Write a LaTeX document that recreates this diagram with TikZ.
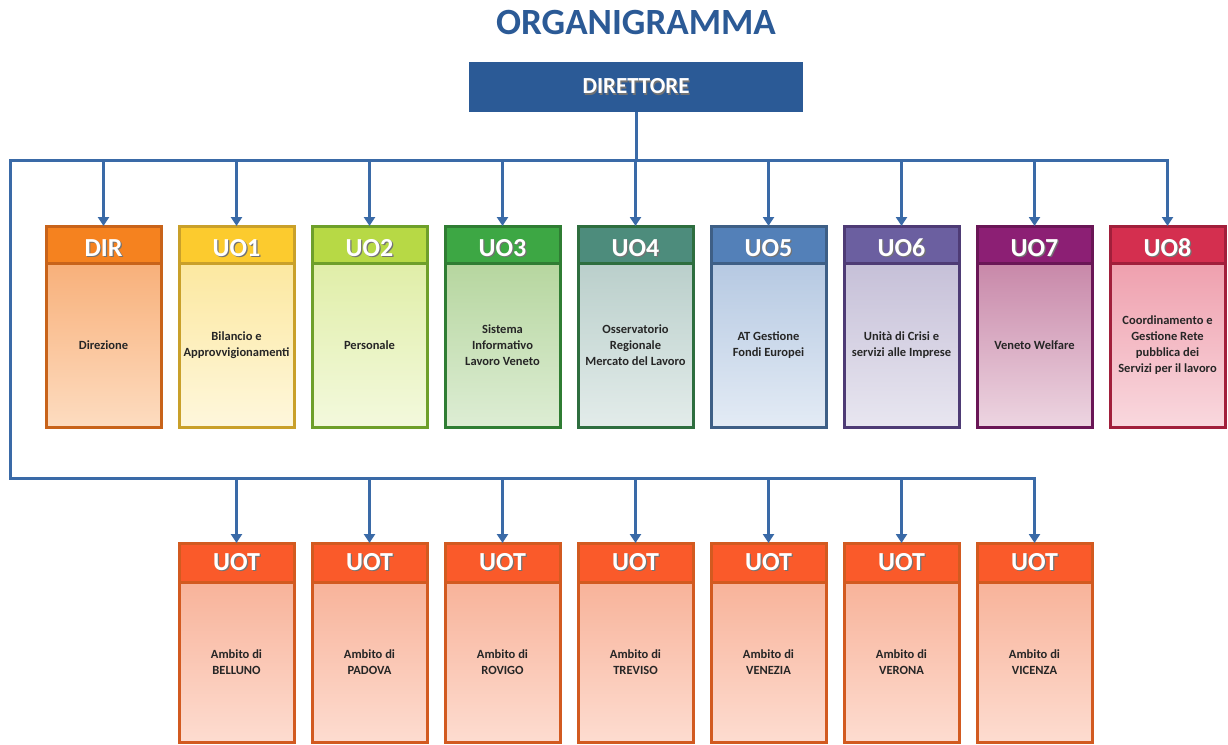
\documentclass[tikz,border=0pt]{standalone}
\usepackage{fontspec}
\setmainfont{Carlito}
\usepackage{xcolor}
\usetikzlibrary{arrows.meta,positioning}
\definecolor{TB}{HTML}{2B5A96}
\definecolor{LN}{HTML}{3A6AA7}
% unit colours: H header, B border, T body top, L body bottom
\definecolor{DIH}{HTML}{F5821F}\definecolor{DIB}{HTML}{C8631A}
\definecolor{DIT}{HTML}{F8B07A}\definecolor{DIL}{HTML}{FDDCC0}
\definecolor{UAH}{HTML}{FCCB2E}\definecolor{UAB}{HTML}{C9A02A}
\definecolor{UAT}{HTML}{FCE8A0}\definecolor{UAL}{HTML}{FEF7DC}
\definecolor{UBH}{HTML}{B7D945}\definecolor{UBB}{HTML}{6E9F2A}
\definecolor{UBT}{HTML}{E0EEA8}\definecolor{UBL}{HTML}{F3F9DD}
\definecolor{UCH}{HTML}{3DA744}\definecolor{UCB}{HTML}{2F7D33}
\definecolor{UCT}{HTML}{B6D69F}\definecolor{UCL}{HTML}{DDEDD4}
\definecolor{UDH}{HTML}{4D8C7C}\definecolor{UDB}{HTML}{2E6E3F}
\definecolor{UDT}{HTML}{BACFCB}\definecolor{UDL}{HTML}{E3ECEA}
\definecolor{UEH}{HTML}{5380B8}\definecolor{UEB}{HTML}{3E5F86}
\definecolor{UET}{HTML}{B6C9E2}\definecolor{UEL}{HTML}{E3EBF5}
\definecolor{UFH}{HTML}{6B5FA0}\definecolor{UFB}{HTML}{4E3B75}
\definecolor{UFT}{HTML}{C6C0D8}\definecolor{UFL}{HTML}{E8E6F0}
\definecolor{UGH}{HTML}{8C1F74}\definecolor{UGB}{HTML}{6A1656}
\definecolor{UGT}{HTML}{C888A9}\definecolor{UGL}{HTML}{EDD5E1}
\definecolor{UHH}{HTML}{D42F4F}\definecolor{UHB}{HTML}{A11F3B}
\definecolor{UHT}{HTML}{EFA0AE}\definecolor{UHL}{HTML}{F9D8DE}
\definecolor{OTH}{HTML}{FA5A2A}\definecolor{OTB}{HTML}{D25A20}
\definecolor{OTT}{HTML}{F8B39A}\definecolor{OTL}{HTML}{FDDCD0}
\newcommand{\shadowtext}[1]{\makebox[0pt][l]{\hspace{1.2pt}\raisebox{-1.2pt}{\color{black!55}#1}}#1}

\begin{document}
\begin{tikzpicture}[x=1pt,y=-1pt,
    head/.style={draw=#1B, fill=#1H, line width=3pt, outer sep=0pt,
      minimum width=115pt, minimum height=37pt, inner sep=0pt,
      font=\fontsize{26}{28}\selectfont\bfseries, text=white},
    body/.style={draw=#1B, top color=#1T, bottom color=#1L,
      line width=3pt, outer sep=0pt,
      minimum width=115pt, minimum height=164pt, inner sep=0pt,
      align=center, font=\fontsize{12.5}{16}\selectfont\bfseries,
      text=black!85},
    link/.style={draw=LN, line width=3pt},
    arr/.style={link, -{Triangle[length=9pt,width=11pt]}}]
  \useasboundingbox (0,0) rectangle (1228,744);

  \node[font=\fontsize{37}{40}\selectfont\bfseries, text=TB]
    (ttl) at (636,22) {ORGANIGRAMMA};
  \node[fill=TB, minimum width=334pt, minimum height=50pt,
        font=\fontsize{23}{26}\selectfont\bfseries, text=white]
    (dirt) at (636,87) {\shadowtext{DIRETTORE}};

  \coordinate (busL) at (10,160);
  \coordinate (lowL) at (10,478);
  \draw[link] (dirt) -- (dirt |- busL);

  % unita' organizzative
  \foreach \id/\name/\col/\txt [count=\i from 0] in {
      dir/DIR/DI/{Direzione},
      uo1/UO1/UA/{Bilancio e\\Approvvigionamenti},
      uo2/UO2/UB/{Personale},
      uo3/UO3/UC/{Sistema\\Informativo\\Lavoro Veneto},
      uo4/UO4/UD/{Osservatorio\\Regionale\\Mercato del Lavoro},
      uo5/UO5/UE/{AT Gestione\\Fondi Europei},
      uo6/UO6/UF/{Unità di Crisi e\\servizi alle Imprese},
      uo7/UO7/UG/{Veneto Welfare},
      uo8/UO8/UH/{Coordinamento e\\Gestione Rete\\pubblica dei\\Servizi per il lavoro}}
  {
    \node[head=\col, text height=23pt, text depth=0pt, anchor=north]
      (\id) at (103.5+133*\i,226) {\shadowtext{\name}};
    \node[body=\col, anchor=north] (\id-b) at (\id.south) {\txt};
    \draw[arr] (\id |- busL) -- (\id);
  }

  % unita' territoriali
  \foreach \city [count=\i from 1] in {BELLUNO,PADOVA,ROVIGO,TREVISO,VENEZIA,VERONA,VICENZA}
  {
    \node[head=OT, minimum height=39pt, anchor=north] (uot\i) at (103.5+133*\i,543) {\shadowtext{UOT}};
    \node[body=OT, minimum height=160pt, anchor=north] (uot\i-b) at (uot\i.south) {Ambito di\\\city};
    \draw[arr] (uot\i |- lowL) -- (uot\i);
  }

  \draw[link, line cap=rect] (uo8 |- busL) -- (busL) -- (lowL) -- (uot7 |- lowL);
\end{tikzpicture}
\end{document}
